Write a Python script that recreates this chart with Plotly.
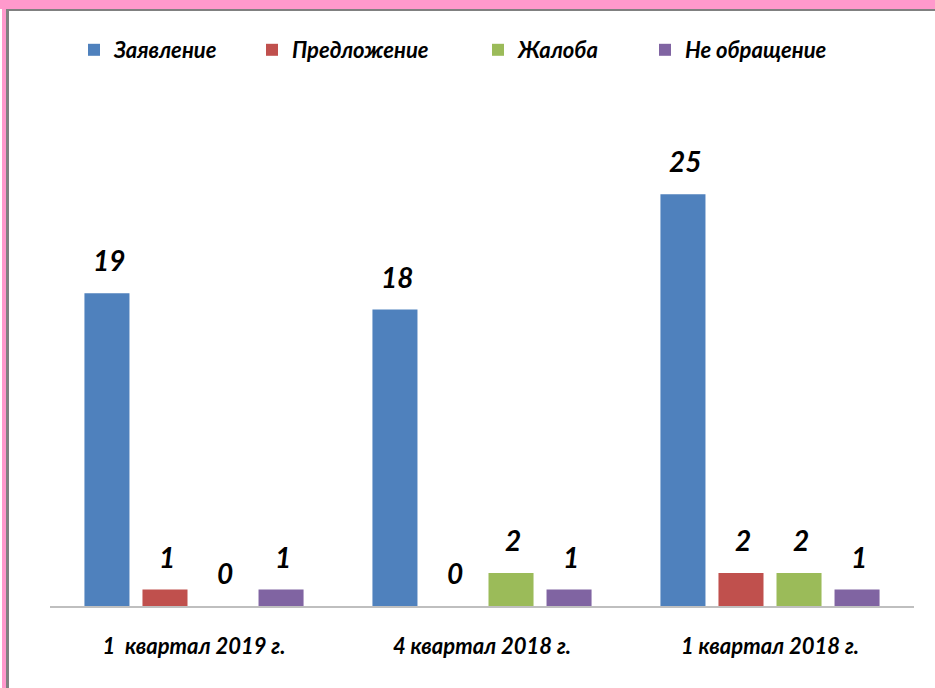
import plotly.graph_objects as go

categories = ["1\u00a0 квартал 2019 г.", "4 квартал 2018 г.", "1 квартал 2018 г."]
series_names = ["Заявление", "Предложение", "Жалоба", "Не обращение"]
zayavlenie = [19, 18, 25]
predlozhenie = [1, 0, 2]
zhaloba = [0, 2, 2]
ne_obrashchenie = [1, 1, 1]
colors = ["#4F81BD", "#C0504D", "#9BBB59", "#8064A2"]

FONT = "Lato"
W, H = 935, 688
ML, MR, MT, MB = 50, 21, 112, 82
legend_names = ["legend", "legend2", "legend3", "legend4"]
legend_x = [74, 252, 478, 645]

fig = go.Figure()
all_vals = [zayavlenie, predlozhenie, zhaloba, ne_obrashchenie]
for i, (name, vals, col) in enumerate(zip(series_names, all_vals, colors)):
    fig.add_trace(go.Bar(
        x=categories, y=vals, name=name,
        marker=dict(color=col, line=dict(width=0)),
        legend=legend_names[i],
    ))

# data labels above bars, positioned via axis coordinates
slot = (W - ML - MR) / 3 * (1 - 0.194) / 4
for i, vals in enumerate(all_vals):
    for cat, v in zip(categories, vals):
        fig.add_annotation(x=cat, y=v, xref="x", yref="y", text=str(v),
                           showarrow=False, xshift=(i - 1.5) * slot + 2, yshift=14,
                           yanchor="bottom",
                           font=dict(family=FONT, size=28, color="black", weight="bold", style="italic"))

legend_font = dict(family=FONT, size=22, color="black", weight="bold", style="italic")
layout_legends = {}
for ln, lx in zip(legend_names, legend_x):
    layout_legends[ln] = dict(orientation="h", x=lx / W, xref="container", xanchor="left",
                              y=1 - 50 / H, yref="container", yanchor="middle",
                              font=legend_font, bgcolor="rgba(0,0,0,0)")

fig.update_layout(
    width=W, height=H,
    paper_bgcolor="white", plot_bgcolor="white",
    margin=dict(l=ML, r=MR, t=MT, b=MB),
    barmode="group", bargap=0.194, bargroupgap=0.224,
    showlegend=True,
    xaxis=dict(showgrid=False, showline=True, linecolor="#BFBFBF", linewidth=2,
               ticks="", ticklabelstandoff=20,
               tickfont=dict(family=FONT, size=22, color="black", weight="bold", style="italic")),
    yaxis=dict(range=[0, 30], showgrid=False, showticklabels=False, zeroline=False, showline=False),
    **layout_legends,
)

# page frame decorations (pink top band, left strip, gray inner border)
def px_rect(x0, y0, x1, y1, color):
    pw = W - ML - MR
    ph = H - MT - MB
    fig.add_shape(type="rect", xref="paper", yref="paper",
                  x0=(x0 - ML) / pw, x1=(x1 - ML) / pw,
                  y0=(H - MB - y1) / ph, y1=(H - MB - y0) / ph,
                  fillcolor=color, line=dict(width=0), layer="above")

px_rect(0, 0, W, 9, "#FF99CC")
px_rect(2, 0, 6, H, "#FF99CC")
px_rect(6, 9, W, 11, "#808080")
px_rect(6, 9, 9, H, "#808080")

fig.write_html("out.html", config={"displayModeBar": False},
               post_script="document.body.style.margin='0';")
